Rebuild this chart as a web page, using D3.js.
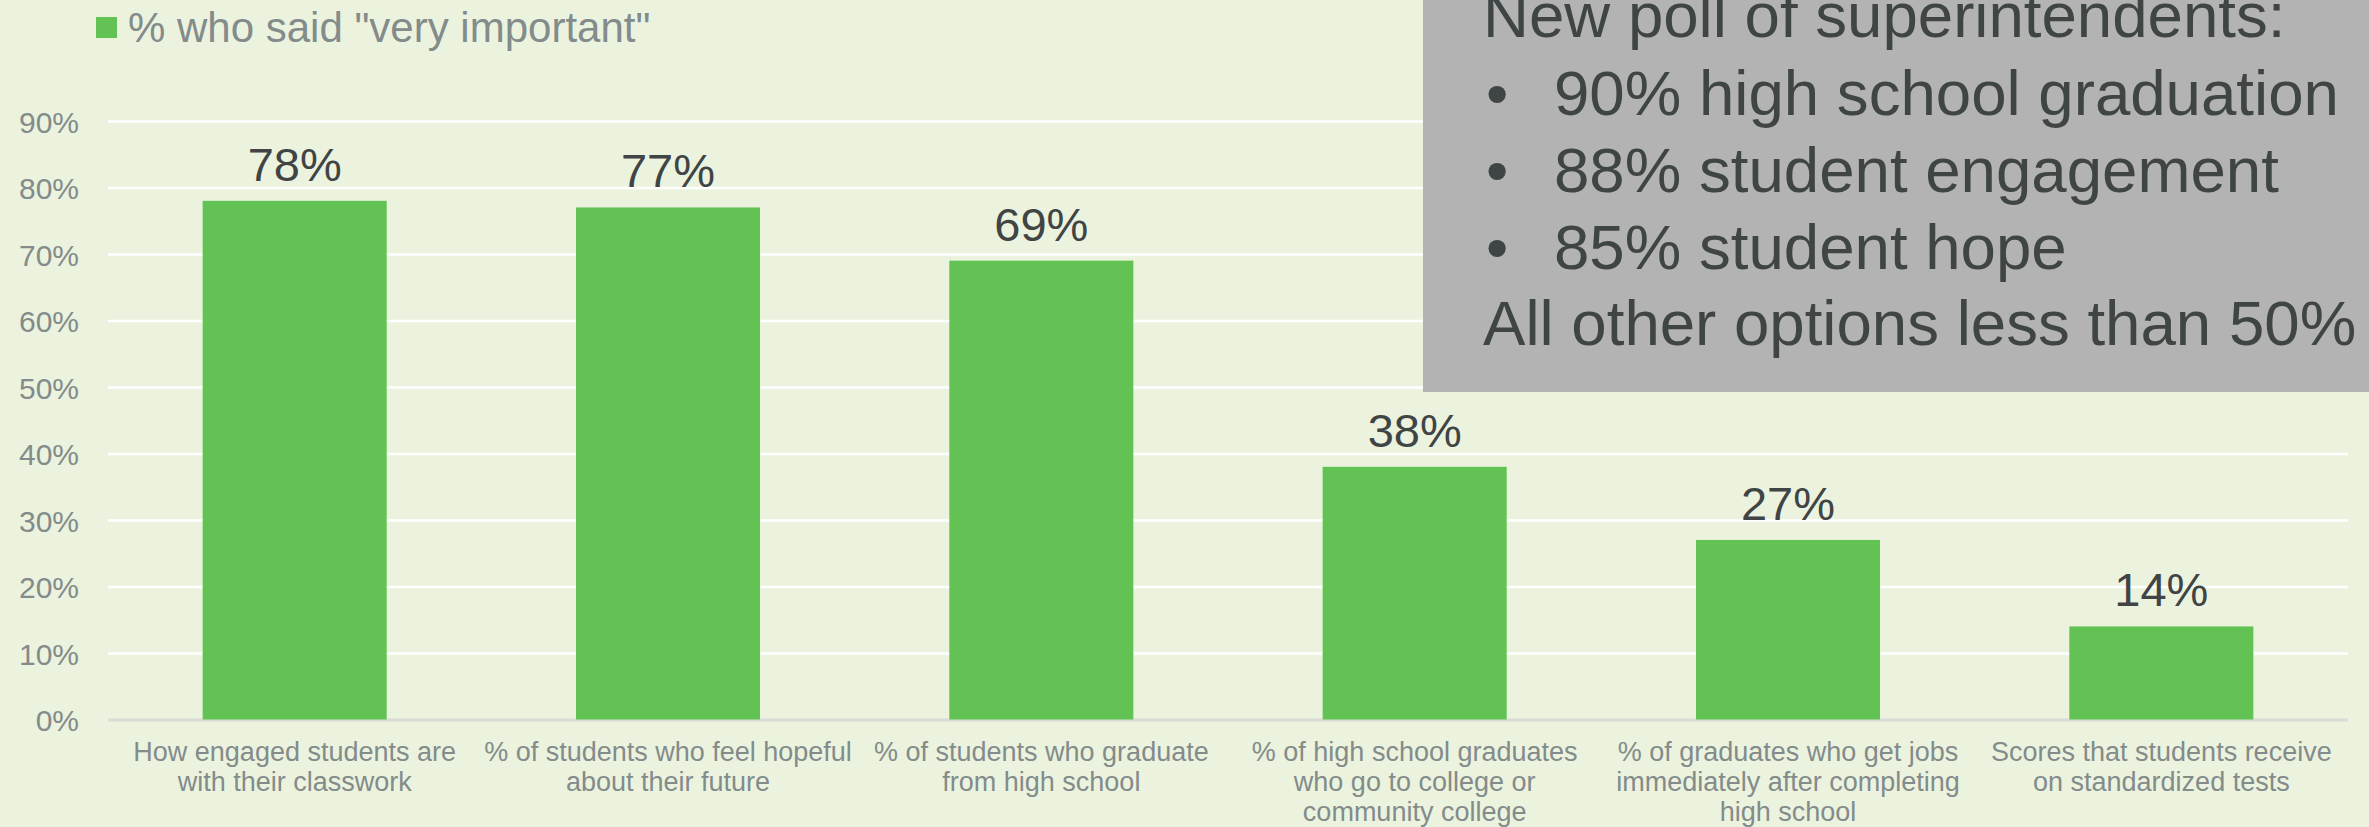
<!DOCTYPE html>
<html>
<head>
<meta charset="utf-8">
<style>
	body { margin: 0; background: #ebf3de; }
	svg { display: block; font-family: 'Liberation Sans', Arial, sans-serif; }
	.bar { fill: #62c354; }
	.tick text { fill: #838b8b; font-size: 30px; }
	.cat { fill: #838b8b; font-size: 27px; }
	.valor { fill: #404444; font-size: 47px; }
	.nota { fill: #3f4545; font-size: 63.6px; }
</style>
</head>
<body>
<svg width="2369" height="827"></svg>
<script src="https://d3js.org/d3.v7.min.js"></script>
<script>

// datos del grafico
var categorias = [
	["How engaged students are", "with their classwork"],
	["% of students who feel hopeful", "about their future"],
	["% of students who graduate", "from high school"],
	["% of high school graduates", "who go to college or", "community college"],
	["% of graduates who get jobs", "immediately after completing", "high school"],
	["Scores that students receive", "on standardized tests"]
];
var valores = [0.78, 0.77, 0.69, 0.38, 0.27, 0.14];
var ticksY = [0, 0.1, 0.2, 0.3, 0.4, 0.5, 0.6, 0.7, 0.8, 0.9];
var serie = '% who said "very important"';
var notaTitulo = "New poll of superintendents:";
var notaPuntos = ["90% high school graduation", "88% student engagement", "85% student hope"];
var notaFinal = "All other options less than 50%";

var svg = d3.select("svg"),
margin = {
	top: 121,
	right: 21,
	bottom: 107.5,
	left: 108
},
width = +svg.attr("width") - margin.left - margin.right,
height = +svg.attr("height") - margin.top - margin.bottom,
g = svg.append("g").attr("transform", "translate(" + margin.left + "," + margin.top + ")");

var x = d3.scaleBand()
	.domain(d3.range(categorias.length))
	.range([0, width])
	.paddingInner(0.507)
	.paddingOuter(0.2535);

var y = d3.scaleLinear()
	.domain([0, 0.9])
	.range([height, 0]);

// lineas de la cuadricula y etiquetas del eje y
var ejeY = g.append("g")
	.call(d3.axisLeft(y)
		.tickValues(ticksY)
		.tickFormat(d3.format(".0%"))
		.tickSizeInner(-width)
		.tickSizeOuter(0)
		.tickPadding(29));
ejeY.select(".domain").remove();
ejeY.selectAll(".tick line")
	.attr("stroke", function (d) { return d === 0 ? "#d9dcd6" : "#ffffff"; })
	.attr("stroke-width", function (d) { return d === 0 ? 3 : 2.5; });
ejeY.selectAll(".tick text").attr("dy", "0.38em");

// barras
g.selectAll(".bar")
	.data(valores)
	.enter().append("rect")
	.attr("class", "bar")
	.attr("x", function (d, i) { return x(i); })
	.attr("y", function (d) { return y(d); })
	.attr("width", x.bandwidth())
	.attr("height", function (d) { return height - y(d); });

// etiquetas de valores
g.selectAll(".valor")
	.data(valores)
	.enter().append("text")
	.attr("class", "valor")
	.attr("text-anchor", "middle")
	.attr("x", function (d, i) { return x(i) + x.bandwidth() / 2; })
	.attr("y", function (d) { return y(d) - 20; })
	.text(function (d) { return Math.round(d * 100) + "%"; });

// etiquetas de categorias
var cat = g.selectAll(".cat")
	.data(categorias)
	.enter().append("text")
	.attr("class", "cat")
	.attr("text-anchor", "middle")
	.attr("transform", function (d, i) {
		return "translate(" + (x(i) + x.bandwidth() / 2) + "," + (height + 41) + ")";
	});
cat.selectAll("tspan")
	.data(function (d) { return d; })
	.enter().append("tspan")
	.attr("x", 0)
	.attr("y", function (d, j) { return j * 30; })
	.text(function (d) { return d; });

// leyenda
svg.append("rect")
	.attr("x", 96).attr("y", 17)
	.attr("width", 21).attr("height", 21)
	.attr("fill", "#62c354");
svg.append("text")
	.attr("x", 128).attr("y", 42)
	.style("font-size", "42px")
	.style("fill", "#838b8b")
	.text(serie);

// cuadro de nota
svg.append("rect")
	.attr("x", 1423).attr("y", -10)
	.attr("width", 960).attr("height", 402)
	.attr("fill", "#b3b3b3");
svg.append("text").attr("class", "nota")
	.attr("x", 1483).attr("y", 37).text(notaTitulo);
notaPuntos.forEach(function (t, i) {
	svg.append("text").attr("class", "nota")
		.attr("x", 1486).attr("y", 115 + i * 77).text("\u2022");
	svg.append("text").attr("class", "nota")
		.attr("x", 1554).attr("y", 115 + i * 77).text(t);
});
svg.append("text").attr("class", "nota")
	.attr("x", 1483).attr("y", 345).text(notaFinal);

</script>
</body>
</html>
